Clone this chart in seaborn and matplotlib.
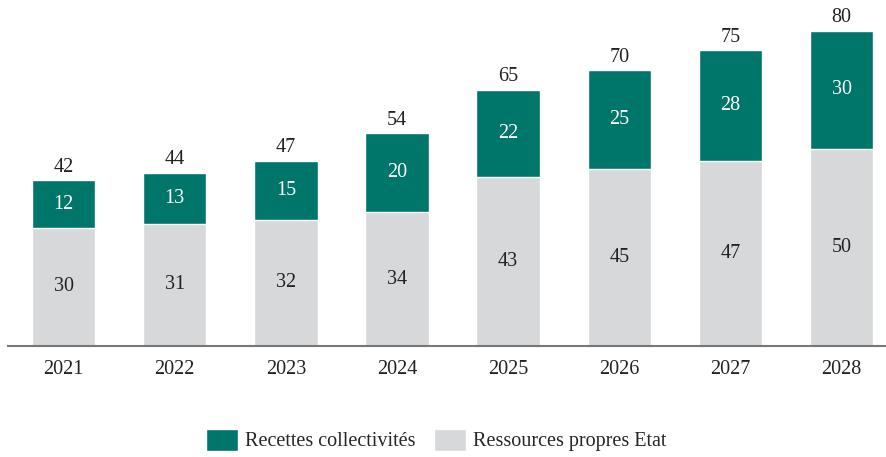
import matplotlib
matplotlib.use("Agg")
import matplotlib.pyplot as plt
import seaborn as sns
import pandas as pd
from matplotlib.patches import Patch

years = ["2021", "2022", "2023", "2024", "2025", "2026", "2027", "2028"]
etat = [30, 31, 32, 34, 43, 45, 47, 50]
collectivites = [12, 13, 15, 20, 22, 25, 28, 30]
totals = [42, 44, 47, 54, 65, 70, 75, 80]

teal = "#00756A"
gray = "#D7D8DA"

sns.set_theme(style="white")
plt.rcParams["font.family"] = ["Liberation Serif", "DejaVu Serif"]

df = pd.DataFrame({"year": years, "etat": etat, "coll": collectivites, "total": totals})

FS = 14.5
fig = plt.figure(figsize=(8.86, 4.57), dpi=100)
ax = fig.add_axes([8 / 886, 1 - 346 / 457, 878 / 886, 346 / 457])

sns.barplot(data=df, x="year", y="total", color=teal, width=0.57, ax=ax, saturation=1)
sns.barplot(data=df, x="year", y="etat", color=gray, width=0.57, ax=ax, saturation=1)

bars_total = ax.containers[0]

for rect, t, c, e in zip(bars_total, totals, collectivites, etat):
    xc = rect.get_x() + rect.get_width() / 2
    ax.text(xc, t + 0.9, str(t), ha="center", va="bottom", fontsize=FS, color="#222222")
    ax.text(xc, e + c / 2, str(c), ha="center", va="center", fontsize=FS, color="white")
    ax.text(xc, e / 2, str(e), ha="center", va="center", fontsize=FS, color="#222222")

ax.set_xlim(-0.5, 7.4)
ax.set_ylim(0, 87.8)
ax.set_xlabel("")
ax.set_ylabel("")
ax.set_yticks([])
for s in ["top", "right", "left"]:
    ax.spines[s].set_visible(False)
ax.spines["bottom"].set_color("#777777")
ax.spines["bottom"].set_linewidth(1.5)
ax.tick_params(axis="x", length=0, labelsize=FS, pad=10, colors="#222222")

handles = [Patch(facecolor=teal, label="Recettes collectivités"),
           Patch(facecolor=gray, label="Ressources propres Etat")]
fig.legend(handles=handles, loc="center", bbox_to_anchor=(436 / 886, 1 - 440 / 457),
           ncol=2, frameon=False, fontsize=FS, handlelength=1.6, handleheight=1.3,
           handletextpad=0.35, columnspacing=0.9)

fig.savefig("out.png", dpi=100)
